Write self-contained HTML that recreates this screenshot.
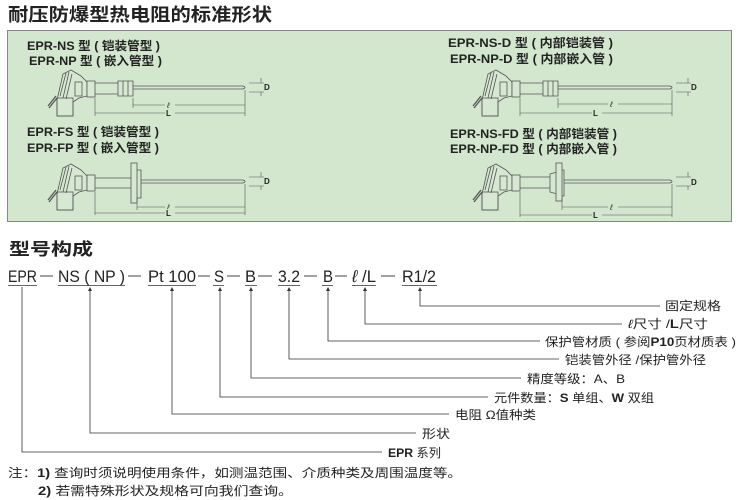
<!DOCTYPE html>
<html><head><meta charset="utf-8"><style>
html,body{margin:0;padding:0;background:#fff;}
svg{display:block;}
text{font-family:"Liberation Sans","Noto Sans CJK SC",sans-serif;fill:#222;}
.b{font-weight:bold;}
</style></head><body>
<svg width="740" height="500" viewBox="0 0 740 500" xmlns="http://www.w3.org/2000/svg">
<defs>
<g id="head" fill="none" stroke="#555" stroke-width="0.8">
  <path d="M42 42 L48 16 L56 12 L66 18 L72 24 L72 38 L64 40 L58 44 L58 58 L42 58 Z" fill="#d6e8d2"/>
  <path d="M45 38 L51 15 M48 40 L54 14 M51 41 L57 16"/>
  <rect x="42" y="40" width="16" height="18"/>
  <rect x="60" y="24" width="7" height="14"/>
  <rect x="72" y="23" width="8" height="16" fill="#d6e8d2"/>
  <path d="M33 48 L41 38 M34 50 L42 40" stroke-width="1.3"/>
</g>
</defs>
<rect x="0" y="0" width="740" height="500" fill="#fff"/>
<text x="8" y="21" class="b" font-size="18" textLength="264" lengthAdjust="spacingAndGlyphs">耐压防爆型热电阻的标准形状</text>
<rect x="7.5" y="30.5" width="724" height="191" fill="#d3e7cf" stroke="#888" stroke-width="1"/>

<g font-size="12" class="b">
<text x="27" y="50" class="b" textLength="133" lengthAdjust="spacingAndGlyphs">EPR-NS 型 ( 铠装管型 )</text>
<text x="29" y="65" class="b" textLength="133" lengthAdjust="spacingAndGlyphs">EPR-NP 型 ( 嵌入管型 )</text>
<text x="27" y="136" class="b" textLength="132" lengthAdjust="spacingAndGlyphs">EPR-FS 型 ( 铠装管型 )</text>
<text x="27" y="152" class="b" textLength="132" lengthAdjust="spacingAndGlyphs">EPR-FP 型 ( 嵌入管型 )</text>
<text x="448" y="47" class="b" textLength="165" lengthAdjust="spacingAndGlyphs">EPR-NS-D 型 ( 内部铠装管 )</text>
<text x="450" y="63" class="b" textLength="163" lengthAdjust="spacingAndGlyphs">EPR-NP-D 型 ( 内部嵌入管 )</text>
<text x="450" y="138" class="b" textLength="167" lengthAdjust="spacingAndGlyphs">EPR-NS-FD 型 ( 内部铠装管 )</text>
<text x="450" y="153" class="b" textLength="167" lengthAdjust="spacingAndGlyphs">EPR-NP-FD 型 ( 内部嵌入管 )</text>
</g>

<!-- drawing 1 -->
<g transform="translate(15,58)">
<use href="#head"/>
<g fill="none" stroke="#555" stroke-width="0.8">
<path d="M80 25 L103 25 M80 36 L103 36"/>
<path d="M103 23 L118 23 L118 38 L103 38 Z M108 23 L108 38 M113 23 L113 38" fill="#d6e8d2"/>
<path d="M118 28 L228 28 Q232 29.5 228 31 L118 31"/>
<path d="M80 40 L80 58 M118 40 L118 50 M230 32 L230 58" stroke-width="0.6"/>
<path d="M118 47 L230 47 M80 55 L230 55" stroke-width="0.6"/>
<path d="M234 25 L249 25 M234 34 L249 34 M246 20 L246 25 M246 34 L246 38" stroke-width="0.6"/>
</g>
<rect x="150" y="43" width="10" height="8" fill="#d3e7cf"/><text x="152" y="50" font-size="8" font-style="italic">ℓ</text>
<rect x="150" y="51" width="10" height="8" fill="#d3e7cf"/><text x="151" y="58" font-size="8" class="b">L</text>
<text x="249" y="32" font-size="8" class="b">D</text>
</g>

<!-- drawing 2 -->
<g transform="translate(15,152)">
<use href="#head"/>
<g fill="none" stroke="#555" stroke-width="0.8">
<path d="M80 26 L116 26 M80 36 L116 36"/>
<rect x="116" y="11" width="6" height="40" fill="#d6e8d2"/>
<path d="M122 18 L126 18 L126 46 L122 46"/>
<path d="M126 28 L228 28 Q232 29.5 228 31 L126 31"/>
<path d="M80 40 L80 63 M122 46 L122 58 M230 32 L230 63" stroke-width="0.6"/>
<path d="M122 55 L230 55 M80 61 L230 61" stroke-width="0.6"/>
<path d="M234 25 L249 25 M234 34 L249 34 M246 20 L246 25 M246 34 L246 38" stroke-width="0.6"/>
</g>
<rect x="150" y="51" width="10" height="8" fill="#d3e7cf"/><text x="152" y="58" font-size="8" font-style="italic">ℓ</text>
<rect x="150" y="57" width="10" height="8" fill="#d3e7cf"/><text x="151" y="64" font-size="8" class="b">L</text>
<text x="249" y="32" font-size="8" class="b">D</text>
</g>

<!-- drawing 3 -->
<g transform="translate(440,58)">
<use href="#head"/>
<g fill="none" stroke="#555" stroke-width="0.8">
<path d="M80 25 L103 25 M80 36 L103 36"/>
<path d="M103 23 L118 23 L118 38 L103 38 Z M108 23 L108 38 M113 23 L113 38" fill="#d6e8d2"/>
<path d="M118 28 L230 28 Q234 29.5 230 31 L118 31"/>
<path d="M80 40 L80 58 M118 40 L118 50 M232 32 L232 58" stroke-width="0.6"/>
<path d="M118 46 L232 46 M80 55 L232 55" stroke-width="0.6"/>
<path d="M236 25 L251 25 M236 34 L251 34 M248 20 L248 25 M248 34 L248 38" stroke-width="0.6"/>
</g>
<rect x="168" y="42" width="10" height="8" fill="#d3e7cf"/><text x="170" y="49" font-size="8" font-style="italic">ℓ</text>
<rect x="152" y="51" width="10" height="8" fill="#d3e7cf"/><text x="153" y="58" font-size="8" class="b">L</text>
<text x="251" y="32" font-size="8" class="b">D</text>
</g>

<!-- drawing 4 -->
<g transform="translate(440,152)">
<use href="#head"/>
<g fill="none" stroke="#555" stroke-width="0.8">
<path d="M80 25 L110 25 M80 36 L110 36"/>
<path d="M110 22 L117 20 L117 42 L110 40 Z" fill="#d6e8d2"/>
<rect x="116" y="11" width="6" height="38" fill="#d6e8d2"/>
<path d="M122 18 L124 18 L124 44 L122 44"/>
<path d="M124 28 L230 28 Q234 29.5 230 31 L124 31"/>
<path d="M80 40 L80 65 M122 46 L122 58 M232 32 L232 65" stroke-width="0.6"/>
<path d="M122 55 L232 55 M80 63 L232 63" stroke-width="0.6"/>
<path d="M236 25 L251 25 M236 34 L251 34 M248 20 L248 25 M248 34 L248 38" stroke-width="0.6"/>
</g>
<rect x="168" y="51" width="10" height="8" fill="#d3e7cf"/><text x="170" y="58" font-size="8" font-style="italic">ℓ</text>
<rect x="152" y="59" width="10" height="8" fill="#d3e7cf"/><text x="153" y="66" font-size="8" class="b">L</text>
<text x="251" y="33" font-size="8" class="b">D</text>
</g>

<text x="9" y="255" class="b" font-size="17" textLength="84" lengthAdjust="spacingAndGlyphs">型号构成</text>

<!-- code line -->
<g font-size="17" fill="#222">
<text x="8" y="282" textLength="29" lengthAdjust="spacingAndGlyphs">EPR</text>
<text x="58" y="282" textLength="67" lengthAdjust="spacingAndGlyphs">NS ( NP )</text>
<text x="148" y="282" textLength="48" lengthAdjust="spacingAndGlyphs">Pt 100</text>
<text x="214" y="282" textLength="10" lengthAdjust="spacingAndGlyphs">S</text>
<text x="245" y="282" textLength="11" lengthAdjust="spacingAndGlyphs">B</text>
<text x="278" y="282" textLength="22" lengthAdjust="spacingAndGlyphs">3.2</text>
<text x="323" y="282" textLength="10" lengthAdjust="spacingAndGlyphs">B</text>
<text x="352" y="282" textLength="24" lengthAdjust="spacingAndGlyphs"><tspan font-style="italic">ℓ</tspan> /L</text>
<text x="402" y="282" textLength="34" lengthAdjust="spacingAndGlyphs">R1/2</text>
</g>
<g stroke="#444" stroke-width="1" fill="none">
<path d="M40 276 H53 M128 276 H141 M198 276 H210 M227 276 H240 M258 276 H272 M304 276 H317 M335 276 H347 M381 276 H395"/>
</g>
<g stroke="#333" stroke-width="0.8" fill="none">
<path d="M8 285.5 H37 M58 285.5 H125 M148 285.5 H196 M213 285.5 H224 M245 285.5 H257 M278 285.5 H300 M322 285.5 H333 M352 285.5 H376 M402 285.5 H437"/>
<path d="M420 289 V306 H660"/>
<path d="M365 289 V324 H622"/>
<path d="M328 289 V341 H540"/>
<path d="M289 289 V359 H559"/>
<path d="M251 289 V378 H521"/>
<path d="M220 289 V397 H488"/>
<path d="M172 289 V414 H449"/>
<path d="M90 289 V433 H416"/>
<path d="M22 287 V452 H382"/>
</g>
<g fill="#333">
<path d="M420 287 l-2 4 h4 z M365 287 l-2 4 h4 z M328 287 l-2 4 h4 z M289 287 l-2 4 h4 z M251 287 l-2 4 h4 z M220 287 l-2 4 h4 z M172 287 l-2 4 h4 z M90 287 l-2 4 h4 z"/>
</g>
<g font-size="12">
<text x="665" y="310" textLength="56" lengthAdjust="spacingAndGlyphs">固定规格</text>
<text x="628" y="328" textLength="80" lengthAdjust="spacingAndGlyphs"><tspan font-style="italic">ℓ</tspan>尺寸 /<tspan class="b">L</tspan>尺寸</text>
<text x="545" y="346" textLength="191" lengthAdjust="spacingAndGlyphs">保护管材质 ( 参阅<tspan class="b">P10</tspan>页材质表 )</text>
<text x="565" y="364" textLength="141" lengthAdjust="spacingAndGlyphs">铠装管外径 /保护管外径</text>
<text x="527" y="383" textLength="98" lengthAdjust="spacingAndGlyphs">精度等级：A、B</text>
<text x="494" y="402" textLength="160" lengthAdjust="spacingAndGlyphs">元件数量：<tspan class="b">S</tspan> 单组、<tspan class="b">W</tspan> 双组</text>
<text x="455" y="419" textLength="81" lengthAdjust="spacingAndGlyphs">电阻 Ω值种类</text>
<text x="422" y="438" textLength="28" lengthAdjust="spacingAndGlyphs">形状</text>
<text x="388" y="457" textLength="53" lengthAdjust="spacingAndGlyphs"><tspan class="b">EPR</tspan> 系列</text>
<text x="8" y="477" textLength="454" lengthAdjust="spacingAndGlyphs">注：<tspan class="b">1)</tspan> 查询时须说明使用条件，如测温范围、介质种类及周围温度等。</text>
<text x="38" y="495" textLength="255" lengthAdjust="spacingAndGlyphs"><tspan class="b">2)</tspan> 若需特殊形状及规格可向我们查询。</text>
</g>
</svg>
</body></html>
